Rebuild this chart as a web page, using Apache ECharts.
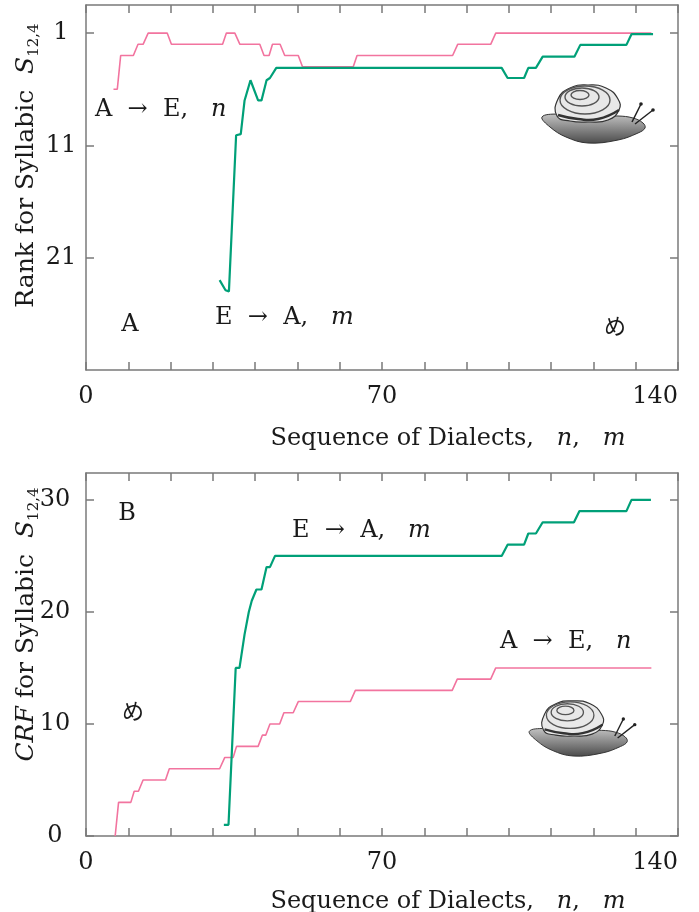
<!DOCTYPE html>
<html><head><meta charset="utf-8">
<script src="https://cdn.jsdelivr.net/npm/echarts@6/dist/echarts.min.js"></script>
<style>html,body{margin:0;padding:0;background:#fff}#c{width:699px;height:912px}</style>
</head><body><div id="c"></div>
<script>
// ---- data ----
const xTickLabels = [0, 70, 140];
const rankTickValues = [1, 11, 21];
const crfTickValues = [0, 10, 20, 30];

// Panel A: rank for syllabic S12,4 vs sequence of dialects
const rankAtoE = [[6.5,6],[7.4,6],[8.2,3],[11.2,3],[12.3,2],[13.5,2],[14.7,1],[19.2,1],[20.2,2],[32.3,2],[33.2,1],[35.2,1],[36.4,2],[41.1,2],[42.1,3],[43.3,3],[44.1,2],[45.9,2],[47,3],[50.2,3],[51.2,4],[63.2,4],[64.1,3],[86.7,3],[87.9,2],[95.7,2],[96.9,1],[133.7,1]];
const rankEtoA = [[31.6,23],[33,23.9],[33.8,24],[35.5,10.1],[36.6,10],[37.5,7],[38.9,5.2],[40.7,7],[41.5,7],[42.7,5.2],[43.5,5],[45,4.1],[98.3,4.1],[99.7,5],[103.6,5],[104.6,4.1],[106.4,4.1],[108,3.1],[115.5,3.1],[116.9,2.05],[127.8,2.05],[129,1.1],[134.1,1.1]];

// Panel B: CRF for syllabic S12,4
const crfAtoE = [[6.9,0],[7.7,3],[10.6,3],[11.4,4],[12.4,4],[13.5,5],[18.8,5],[19.7,6],[31.6,6],[32.8,7],[34.8,7],[35.6,8],[40.7,8],[41.7,9],[42.5,9],[43.5,10],[45.8,10],[46.8,11],[49,11],[50.2,12],[62.5,12],[63.7,13],[86.6,13],[87.8,14],[95.7,14],[96.9,15],[133.7,15]];
const crfEtoA = [[32.6,1],[33.7,1],[35.4,15],[36.3,15],[37.5,18],[38.5,20],[39.2,21],[40.3,22],[41.5,22],[42.7,24],[43.5,24],[44.7,25],[98.3,25],[99.7,26],[103.6,26],[104.6,27],[106.4,27],[108,28],[115.4,28],[116.7,29],[127.8,29],[129,30],[133.6,30]];

// ---- styling ----
const SERIF = 'DejaVu Serif';
const CJK = 'Noto Sans CJK JP';
const TXT = '#1a1a1a';
const PINK = '#f2749f';
const GREEN = '#00a078';
const lineStyle = {color: '#7a7a7a', width: 1.5};

const richBase = {
  t: {fontFamily: SERIF, fontSize: 24, color: TXT, lineHeight: 30},
  i: {fontFamily: SERIF, fontSize: 24, color: TXT, fontStyle: 'italic', lineHeight: 30},
  s: {fontFamily: SERIF, fontSize: 14, color: TXT, verticalAlign: 'bottom', lineHeight: 30},
  j: {fontFamily: CJK, fontSize: 22, color: TXT, lineHeight: 30}
};
const richY = {
  t: {fontFamily: SERIF, fontSize: 25, color: TXT, lineHeight: 31},
  i: {fontFamily: SERIF, fontSize: 25, color: TXT, fontStyle: 'italic', lineHeight: 31},
  s: {fontFamily: SERIF, fontSize: 15, color: TXT, verticalAlign: 'bottom', lineHeight: 31}
};

function xPair(gridIndex, nameGap) {
  return [
    {type: 'value', gridIndex, position: 'bottom', min: 0, max: 140, interval: 10,
      axisLine: {show: true, onZero: false, lineStyle},
      axisTick: {show: true, inside: true, length: 8, lineStyle},
      splitLine: {show: false},
      axisLabel: {customValues: xTickLabels, fontFamily: SERIF, fontSize: 24, color: TXT, margin: 15, alignMaxLabel: 'right'},
      name: '{t|Sequence of Dialects,   }{i|n}{t|,   }{i|m}',
      nameLocation: 'middle', nameGap,
      nameTextStyle: {rich: richBase, padding: [0, 0, 0, 132]}},
    {type: 'value', gridIndex, position: 'top', min: 0, max: 140, interval: 10,
      axisLine: {show: true, onZero: false, lineStyle},
      axisTick: {show: true, inside: true, length: 8, lineStyle},
      splitLine: {show: false}, axisLabel: {show: false}}
  ];
}

function yPair(gridIndex, cfg) {
  return [
    {type: 'value', gridIndex, position: 'left', inverse: cfg.inverse, min: cfg.min, max: cfg.max,
      axisLine: {show: true, onZero: false, lineStyle},
      axisTick: {show: true, inside: true, length: 8, lineStyle, customValues: cfg.ticks},
      splitLine: {show: false},
      axisLabel: {customValues: cfg.ticks, fontFamily: SERIF, fontSize: 24, color: TXT, margin: cfg.margin, align: 'center'},
      name: cfg.name, nameLocation: 'middle', nameRotate: 90, nameGap: cfg.nameGap, nameMoveOverlap: false,
      nameTextStyle: {rich: richY, padding: [0, 0, 0, cfg.shift]}},
    {type: 'value', gridIndex, position: 'right', inverse: cfg.inverse, min: cfg.min, max: cfg.max,
      axisLine: {show: true, onZero: false, lineStyle},
      axisTick: {show: true, inside: true, length: 8, lineStyle, customValues: cfg.ticks},
      splitLine: {show: false}, axisLabel: {show: false}}
  ];
}

function label(x, y, text, align) {
  return {type: 'text', x, y, silent: true,
    style: {text, rich: richBase, align: align || 'left', verticalAlign: 'middle', fontFamily: SERIF, fontSize: 24, fill: TXT}};
}

function snail(cx, cy, s) {
  const body = {type: 'linear', x: 0, y: 0, x2: 0, y2: 1,
    colorStops: [{offset: 0, color: '#c4c4c4'}, {offset: 1, color: '#4a4a4a'}]};
  const ring = {fill: 'none', stroke: '#555', lineWidth: 1.4};
  return {type: 'group', x: cx, y: cy, scaleX: s, scaleY: s, silent: true, children: [
    {type: 'polygon', shape: {smooth: 0.4, points: [[-46,14],[-30,11],[0,13],[30,13],[45,15],[55,20],[57,25],[50,30],[30,37],[0,40],[-22,34],[-38,24]]},
      style: {fill: body, stroke: '#333', lineWidth: 1}},
    {type: 'line', shape: {x1: 44, y1: 19, x2: 53, y2: 1}, style: {stroke: '#222', lineWidth: 1.5}},
    {type: 'line', shape: {x1: 47, y1: 21, x2: 65, y2: 7}, style: {stroke: '#222', lineWidth: 1.5}},
    {type: 'circle', shape: {cx: 53, cy: 1, r: 1.8}, style: {fill: '#222'}},
    {type: 'circle', shape: {cx: 65, cy: 7, r: 1.8}, style: {fill: '#222'}},
    {type: 'polygon', shape: {smooth: 0.5, points: [[-31,13],[-30,-4],[-18,-15],[0,-18],[18,-15],[30,-4],[31,7],[20,17],[0,19],[-18,18]]},
      style: {fill: '#e8e8e8', stroke: '#333', lineWidth: 1.2}},
    {type: 'ellipse', shape: {cx: -3, cy: -3, rx: 25, ry: 14}, style: ring},
    {type: 'ellipse', shape: {cx: -6, cy: -6, rx: 17, ry: 9}, style: ring},
    {type: 'ellipse', shape: {cx: -8, cy: -8, rx: 9, ry: 4.5}, style: ring},
    {type: 'polyline', shape: {smooth: 0.5, points: [[-30,12],[-10,16],[10,16],[31,7]]}, style: {fill: 'none', stroke: '#333', lineWidth: 2.5}}
  ]};
}

const chart = echarts.init(document.getElementById('c'), null, {renderer: 'canvas'});
chart.setOption({
  backgroundColor: '#fff',
  animation: false,
  grid: [
    {left: 86, top: 5, width: 592, height: 365, containLabel: false, outerBoundsMode: 'none'},
    {left: 86, top: 473, width: 592, height: 363, containLabel: false, outerBoundsMode: 'none'}
  ],
  xAxis: [...xPair(0, 54), ...xPair(1, 51)],
  yAxis: [
    ...yPair(0, {inverse: true, min: -1.5, max: 31, ticks: rankTickValues, margin: 25, nameGap: 44, shift: 44,
      name: '{t|Rank for Syllabic  }{i|S}{s|12,4}'}),
    ...yPair(1, {inverse: false, min: 0, max: 32.4, ticks: crfTickValues, margin: 31, nameGap: 44, shift: 60,
      name: '{i|CRF}{t| for Syllabic  }{i|S}{s|12,4}'})
  ],
  series: [
    {type: 'line', name: 'A→E, n', xAxisIndex: 0, yAxisIndex: 0, data: rankAtoE, showSymbol: false, lineStyle: {color: PINK, width: 1.6}, itemStyle: {color: PINK}},
    {type: 'line', name: 'E→A, m', xAxisIndex: 0, yAxisIndex: 0, data: rankEtoA, showSymbol: false, lineStyle: {color: GREEN, width: 2.2}, itemStyle: {color: GREEN}},
    {type: 'line', name: 'A→E, n', xAxisIndex: 2, yAxisIndex: 2, data: crfAtoE, showSymbol: false, lineStyle: {color: PINK, width: 1.6}, itemStyle: {color: PINK}},
    {type: 'line', name: 'E→A, m', xAxisIndex: 2, yAxisIndex: 2, data: crfEtoA, showSymbol: false, lineStyle: {color: GREEN, width: 2.2}, itemStyle: {color: GREEN}}
  ],
  graphic: [
    label(95, 110, '{t|A  →  E,   }{i|n}'),
    label(130, 325, '{t|A}', 'center'),
    label(215, 318, '{t|E  →  A,   }{i|m}'),
    label(615, 326, '{j|め}', 'center'),
    label(127, 514, '{t|B}', 'center'),
    label(292, 531, '{t|E  →  A,   }{i|m}'),
    label(500, 642, '{t|A  →  E,   }{i|n}'),
    label(133, 711, '{j|め}', 'center'),
    snail(588, 103, 1),
    snail(573, 718, 0.95)
  ]
});
</script>
</body></html>
